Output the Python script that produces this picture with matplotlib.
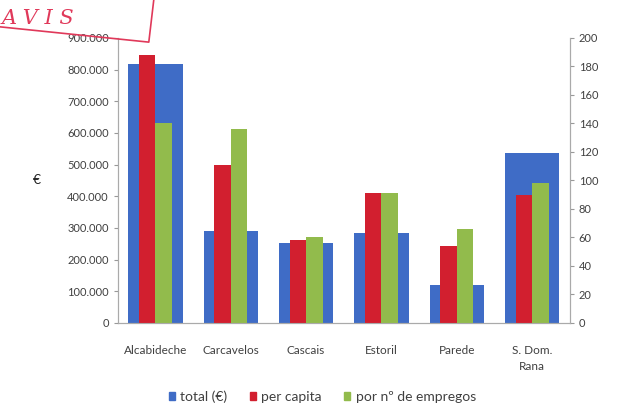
import matplotlib.pyplot as plt
import matplotlib.lines as mlines
import numpy as np
from matplotlib.ticker import FuncFormatter

categories = ["Alcabideche", "Carcavelos", "Cascais", "Estoril", "Parede", "S. Dom.\nRana"]
total = [818000, 290000, 253000, 284000, 120000, 537000]
per_capita = [188, 111, 58, 91, 54, 90]
por_emprego = [140, 136, 60, 91, 66, 98]

blue = '#3f6cc6'
red = '#d21f2f'
green = '#92bb4c'
grey = '#404040'

plt.rcParams['font.family'] = ['Lato', 'DejaVu Sans']

fig = plt.figure(figsize=(6.2, 4.13), dpi=100, facecolor='white')
ax = fig.add_axes([0.190, 0.218, 0.729, 0.690])
ax2 = ax.twinx()

x = np.arange(len(categories))
ax.bar(x, total, width=0.72, color=blue, zorder=1)
ax2.bar(x - 0.11, per_capita, width=0.22, color=red, zorder=2)
ax2.bar(x + 0.11, por_emprego, width=0.22, color=green, zorder=2)

ax.set_xlim(-0.5, len(categories) - 0.5)
ax.set_ylim(0, 900000)
ax2.set_ylim(0, 200)
ax.set_yticks(np.arange(0, 900001, 100000))
ax2.set_yticks(np.arange(0, 201, 20))
ax.yaxis.set_major_formatter(FuncFormatter(lambda v, p: "{:,.0f}".format(v).replace(",", ".")))

ax.set_xticks(x)
ax.set_xticklabels(categories, fontsize=8.5, color=grey, linespacing=1.5)
ax.tick_params(axis='x', length=0, pad=16)
ax.tick_params(axis='y', labelsize=8, colors=grey, length=3, color='#999999')
ax2.tick_params(axis='y', labelsize=8, colors=grey, length=3, color='#999999')

for a in (ax, ax2):
    a.spines['top'].set_visible(False)
    for s in ('left', 'right', 'bottom'):
        a.spines[s].set_color('#aaaaaa')
        a.spines[s].set_linewidth(0.8)

ax.set_ylabel('€', rotation=0, fontsize=10, color='#222222', labelpad=22, va='center')

handles = [plt.Rectangle((0, 0), 1, 1, color=c) for c in (blue, red, green)]
fig.legend(handles, ['total (€)', 'per capita', 'por nº de empregos'],
           loc='center', bbox_to_anchor=(0.52, 0.04), ncol=3, frameon=False,
           fontsize=10, handlelength=0.45, handleheight=0.45, columnspacing=1.6,
           handletextpad=0.4, labelcolor=grey)

# red stamp in the top left corner of the scan
fig.text(0.003, 0.955, 'A V I S', color='#e0395a', fontsize=15, family='DejaVu Serif',
         style='italic', va='center')
fig.add_artist(mlines.Line2D([0, 0.240, 0.248], [0.935, 0.898, 1.0],
                             color='#e0395a', lw=1.2, transform=fig.transFigure))

plt.savefig('out.png', dpi=100, facecolor='white')
